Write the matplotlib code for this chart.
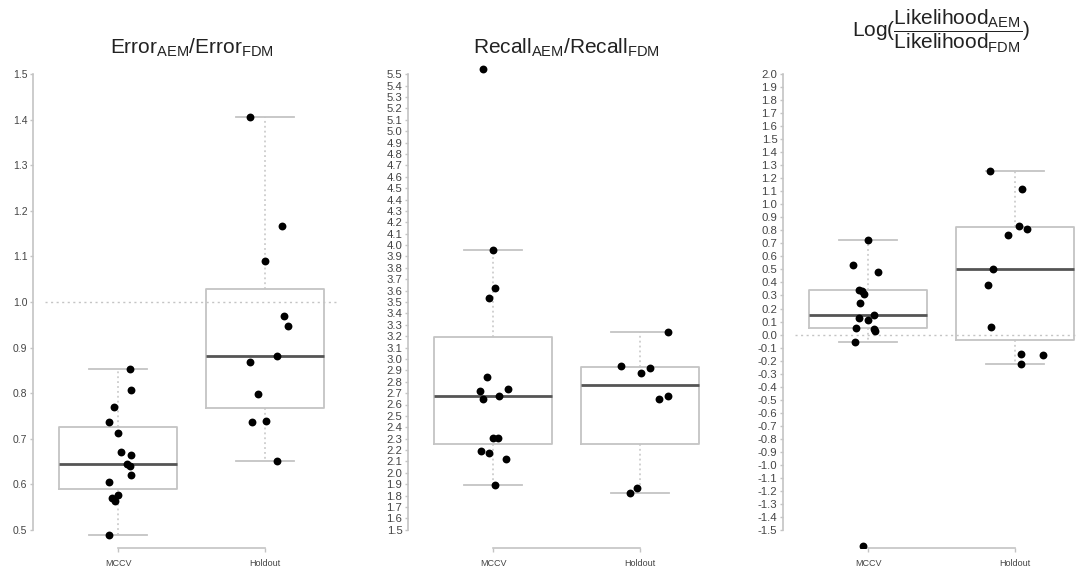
import math
import matplotlib
matplotlib.use("Agg")
import matplotlib.pyplot as plt
import matplotlib.transforms as mtransforms

plt.rcParams["font.family"] = ["Liberation Sans", "DejaVu Sans"]
plt.rcParams["mathtext.fontset"] = "custom"
plt.rcParams["mathtext.rm"] = "Liberation Sans"
plt.rcParams["mathtext.it"] = "Liberation Sans:italic"
plt.rcParams["mathtext.bf"] = "Liberation Sans:bold"

groups = ["MCCV", "Holdout"]

# Error ratio
err_mccv = [0.853, 0.806, 0.770, 0.737, 0.713, 0.670, 0.665, 0.645, 0.641, 0.620, 0.605, 0.576, 0.570, 0.564, 0.488]
err_mccv_jit = [0.08, 0.09, -0.03, -0.065, 0.0, 0.02, 0.09, 0.06, 0.08, 0.085, -0.065, 0.0, -0.045, -0.02, -0.06]
err_hold = [1.407, 1.167, 1.089, 0.970, 0.947, 0.881, 0.868, 0.797, 0.737, 0.738, 0.652]
err_hold_jit = [-0.10, 0.12, 0.0, 0.13, 0.16, 0.085, -0.10, -0.05, -0.09, 0.01, 0.08]

# Recall ratio
rec_mccv = [5.544, 3.953, 3.625, 3.535, 2.842, 2.719, 2.737, 2.646, 2.678, 2.307, 2.307, 2.196, 2.175, 2.125, 1.897]
rec_mccv_jit = [-0.07, 0.0, 0.015, -0.03, -0.045, -0.09, 0.10, -0.07, 0.04, 0.0, 0.03, -0.085, -0.03, 0.09, 0.01]
rec_hold = [3.24, 2.936, 2.924, 2.874, 2.673, 2.646, 1.866, 1.827]
rec_hold_jit = [0.19, -0.13, 0.07, 0.01, 0.19, 0.13, -0.02, -0.07]

# Log likelihood ratio
lik_mccv = [0.723, 0.536, 0.478, 0.345, 0.335, 0.31, 0.245, 0.148, 0.130, 0.112, 0.053, 0.045, 0.030, -0.057, -1.622]
lik_mccv_jit = [0.0, -0.10, 0.07, -0.06, -0.04, -0.03, -0.055, 0.04, -0.065, 0.0, -0.085, 0.04, 0.05, -0.09, -0.035]
lik_hold = [1.256, 1.115, 0.833, 0.813, 0.762, 0.503, 0.378, 0.056, -0.146, -0.159, -0.223]
lik_hold_jit = [-0.17, 0.05, 0.03, 0.08, -0.05, -0.15, -0.18, -0.16, 0.04, 0.19, 0.04]

titles = [
    r"$\mathrm{Error}_{\mathrm{AEM}}/\mathrm{Error}_{\mathrm{FDM}}$",
    r"$\mathrm{Recall}_{\mathrm{AEM}}/\mathrm{Recall}_{\mathrm{FDM}}$",
    r"$\mathrm{Log}(\dfrac{\mathrm{Likelihood}_{\mathrm{AEM}}}{\mathrm{Likelihood}_{\mathrm{FDM}}})$",
]
ref_lines = [1.0, None, 0.0]
y_ranges = [(0.5, 1.5), (1.5, 5.5), (-1.5, 2.0)]


def box_stats(vals):
    # R style boxplot.stats (Tukey hinges)
    x = sorted(vals)
    n = len(x)
    n4 = math.floor((n + 3) / 2) / 2
    d = [1, n4, (n + 1) / 2, n + 1 - n4, n]
    f = [0.5 * (x[math.floor(k - 1)] + x[math.ceil(k - 1)]) for k in d]
    iqr = f[3] - f[1]
    lo = min(v for v in x if v >= f[1] - 1.5 * iqr)
    hi = max(v for v in x if v <= f[3] + 1.5 * iqr)
    return dict(med=f[2], q1=f[1], q3=f[3], whislo=lo, whishi=hi, fliers=[])


W, H = 1076, 571
fig = plt.figure(figsize=(W / 100, H / 100), dpi=100)

panels = [
    (err_mccv, err_mccv_jit, err_hold, err_hold_jit),
    (rec_mccv, rec_mccv_jit, rec_hold, rec_hold_jit),
    (lik_mccv, lik_mccv_jit, lik_hold, lik_hold_jit),
]
lefts = [33, 408, 783]
title_y = [48, 48, 31]
ytick_size = [7.5, 8.2, 8.2]
grey = "#c4c4c4"

for i, (a, aj, b, bj) in enumerate(panels):
    ax = fig.add_axes([lefts[i] / W, 23 / H, 317 / W, 492 / H])
    lo, hi = y_ranges[i]
    pad = 0.04 * (hi - lo)
    ax.set_ylim(lo - pad, hi + pad)
    ax.set_xlim(0.42, 2.58)

    if ref_lines[i] is not None:
        ax.hlines(ref_lines[i], 0.5, 2.5, colors=grey, linestyles=(0, (1.5, 2.5)), lw=1, zorder=1)

    ax.bxp([box_stats(a), box_stats(b)], positions=[1, 2], widths=0.8, capwidths=0.4,
           showfliers=False,
           boxprops=dict(color=grey, lw=1.3),
           whiskerprops=dict(color=grey, lw=1.1, linestyle=(0, (1.2, 2))),
           capprops=dict(color=grey, lw=1.3),
           medianprops=dict(color="#555555", lw=2))

    ax.scatter([1 + j for j in aj], a, s=32, color="black", zorder=3, linewidths=0)
    ax.scatter([2 + j for j in bj], b, s=32, color="black", zorder=3, linewidths=0)

    nt = int(round((hi - lo) / 0.1))
    ticks = [round(lo + 0.1 * k, 1) for k in range(nt + 1)]
    ax.set_yticks(ticks)
    ax.set_yticklabels([f"{t:.1f}" if t != 0 else "0.0" for t in ticks])
    ax.set_xticks([1, 2])
    ax.set_xticklabels(groups)

    for s in ["top", "right"]:
        ax.spines[s].set_visible(False)
    ax.spines["left"].set_bounds(lo, hi)
    ax.spines["bottom"].set_bounds(1, 2)
    for s in ["left", "bottom"]:
        ax.spines[s].set_color(grey)
        ax.spines[s].set_linewidth(1.2)
    ax.tick_params(axis="y", length=2.5, width=1, color=grey, pad=1.5,
                   labelsize=ytick_size[i], labelcolor="#444444")
    ax.tick_params(axis="x", length=3, width=1, color=grey, pad=5,
                   labelsize=6.5, labelcolor="#444444")
    ax.patch.set_visible(False)

    tr = mtransforms.blended_transform_factory(ax.transAxes, fig.transFigure)
    ax.text(0.5, 1 - title_y[i] / H, titles[i], transform=tr, ha="center", va="center",
            fontsize=15, color="#222222")

fig.savefig("out.png", dpi=100)
